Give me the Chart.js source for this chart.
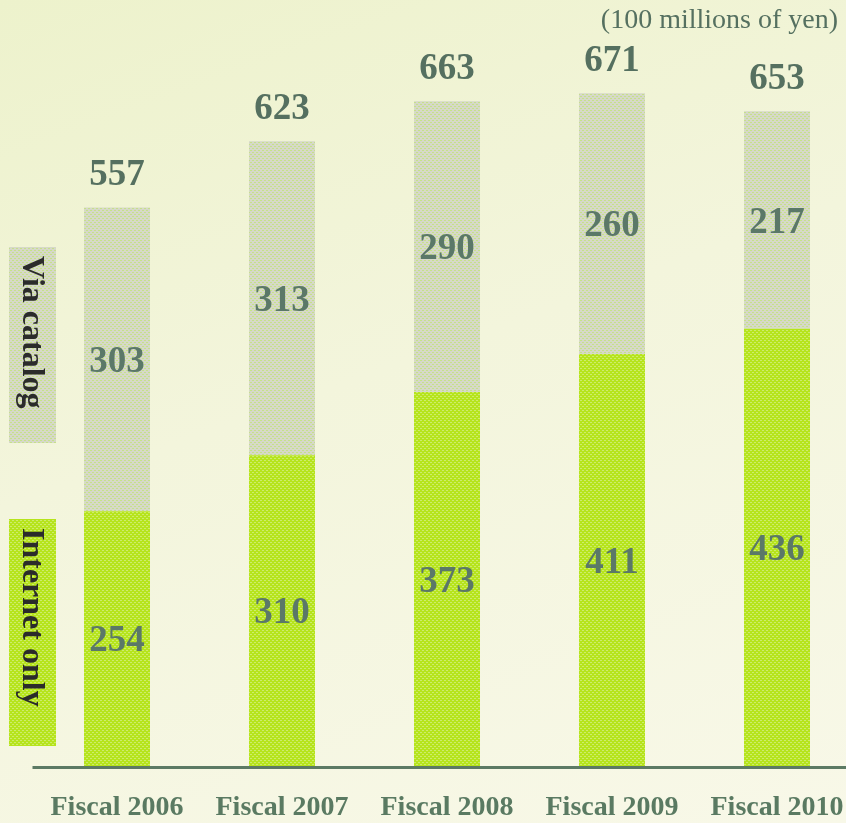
<!DOCTYPE html>
<html>
<head>
<meta charset="utf-8">
<script src="https://cdn.jsdelivr.net/npm/chart.js@4/dist/chart.umd.min.js"></script>
<style>
html,body{margin:0;padding:0;overflow:hidden;width:846px;height:823px;}
body{background:linear-gradient(160deg,#edf2cc 0%,#f3f5dc 45%,#f8f8e8 100%);}
#wrap{position:absolute;left:0;top:0;width:860px;height:823px;}
</style>
</head>
<body>
<div id="wrap"><canvas id="c" width="860" height="823"></canvas></div>
<script>
const categories = ["Fiscal 2006","Fiscal 2007","Fiscal 2008","Fiscal 2009","Fiscal 2010"];
const internetOnly = [254, 310, 373, 411, 436];
const viaCatalog = [303, 313, 290, 260, 217];
const totals = [557, 623, 663, 671, 653];
const seriesNames = ["Internet only", "Via catalog"];
const unitLabel = "(100 millions of yen)";

function makePattern(base, dot) {
  const p = document.createElement('canvas');
  p.width = 4; p.height = 4;
  const g = p.getContext('2d');
  g.fillStyle = base; g.fillRect(0,0,4,4);
  g.fillStyle = dot;
  g.fillRect(0,0,2,1); g.fillRect(2,2,2,1);
  return g.createPattern(p, 'repeat');
}
const greenPat = makePattern('#b6e41c', '#cdec6c');
const greyPat = makePattern('#d6d9c8', '#c6e08a');

const textGreen = '#557060';

const overlay = {
  id: 'overlay',
  afterDatasetsDraw(chart) {
    const ctx = chart.ctx;
    const area = chart.chartArea;
    const xs = chart.scales.x;
    ctx.save();
    // axis line
    ctx.strokeStyle = '#5c7a64';
    ctx.lineWidth = 3;
    ctx.beginPath();
    ctx.moveTo(area.left - 2, area.bottom + 1.5);
    ctx.lineTo(chart.width, area.bottom + 1.5);
    ctx.stroke();
    // x labels
    ctx.fillStyle = '#5a7a62';
    ctx.font = 'bold 28px "Liberation Serif"';
    ctx.textAlign = 'center';
    ctx.textBaseline = 'middle';
    categories.forEach((c, i) => {
      ctx.fillText(c, xs.getPixelForValue(i), area.bottom + 42);
    });
    // segment labels
    ctx.font = 'bold 37px "Liberation Serif"';
    ctx.fillStyle = '#5b7868';
    chart.data.datasets.forEach((ds, di) => {
      const meta = chart.getDatasetMeta(di);
      meta.data.forEach((el, i) => {
        const mid = (el.y + el.base) / 2;
        ctx.fillText(String(ds.data[i]), el.x, mid + 3);
      });
    });
    // totals
    ctx.fillStyle = textGreen;
    const topMeta = chart.getDatasetMeta(1);
    topMeta.data.forEach((el, i) => {
      ctx.fillText(String(totals[i]), el.x, el.y - 32);
    });
    // unit label
    ctx.font = '28px "Liberation Serif"';
    ctx.textAlign = 'right';
    ctx.fillText(unitLabel, 838, 21);
    // legend boxes (vertical)
    const legends = [
      {name: seriesNames[1], fill: greyPat, top: 247, h: 196},
      {name: seriesNames[0], fill: greenPat, top: 519, h: 227}
    ];
    legends.forEach(l => {
      ctx.fillStyle = l.fill;
      ctx.fillRect(9, l.top, 47, l.h);
      ctx.save();
      ctx.translate(32, l.top + 9);
      ctx.rotate(Math.PI / 2);
      ctx.fillStyle = '#2b2b2b';
      ctx.font = 'bold 32px "Liberation Serif"';
      ctx.textAlign = 'left';
      ctx.textBaseline = 'middle';
      ctx.fillText(l.name, 0, 1);
      ctx.restore();
    });
    ctx.restore();
  }
};

new Chart(document.getElementById('c'), {
  type: 'bar',
  data: {
    labels: categories,
    datasets: [
      {label: seriesNames[0], data: internetOnly, backgroundColor: greenPat, borderWidth: 0},
      {label: seriesNames[1], data: viaCatalog, backgroundColor: greyPat, borderWidth: 0}
    ]
  },
  options: {
    responsive: false,
    animation: false,
    events: [],
    layout: {padding: {left: 34.5, right: 0.5, top: 14, bottom: 57}},
    datasets: {bar: {categoryPercentage: 0.4, barPercentage: 1}},
    plugins: {legend: {display: false}, tooltip: {enabled: false}},
    scales: {
      x: {stacked: true, display: false},
      y: {stacked: true, display: false, min: 0, max: 750}
    }
  },
  plugins: [overlay]
});
</script>
</body>
</html>
